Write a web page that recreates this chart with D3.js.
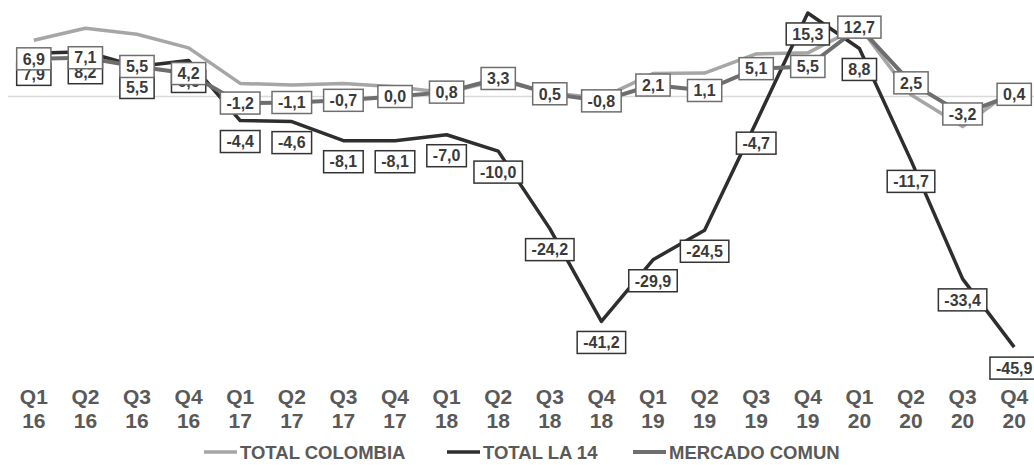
<!DOCTYPE html>
<html>
<head>
<meta charset="utf-8">
<script src="https://cdnjs.cloudflare.com/ajax/libs/d3/7.8.5/d3.min.js"></script>
<style>
  body { margin: 0; background: #fff; }
  svg { display: block; font-family: "Liberation Sans", Arial, sans-serif; }
</style>
</head>
<body>
<div id="chart"></div>
<script>
// categories (quarter / year)
var quarters = ["Q1","Q2","Q3","Q4","Q1","Q2","Q3","Q4","Q1","Q2",
                "Q3","Q4","Q1","Q2","Q3","Q4","Q1","Q2","Q3","Q4"];
var years = ["16","16","16","16","17","17","17","17","18","18",
             "18","18","19","19","19","19","20","20","20","20"];

// series values (% variation)
var totalColombia = [10.3, 12.5, 11.4, 8.9, 2.4, 2.1, 2.4, 1.8, 0.7, 3.0,
                     0.7, -0.3, 4.2, 4.3, 7.8, 8.0, 12.8, 0.3, -5.5, 1.5];
var totalLa14 = [7.9, 8.2, 5.5, 6.6, -4.4, -4.6, -8.1, -8.1, -7.0, -10.0,
                 -24.2, -41.2, -29.9, -24.5, -4.7, 15.3, 8.8, -11.7, -33.4, -45.9];
var mercadoComun = [6.9, 7.1, 5.5, 4.2, -1.2, -1.1, -0.7, 0.0, 0.8, 3.3,
                    0.5, -0.8, 2.1, 1.1, 5.1, 5.5, 12.7, 2.5, -3.2, 0.4];

var seriesNames = ["TOTAL COLOMBIA", "TOTAL LA 14", "MERCADO COMUN"];

var W = 1034, H = 465;
var cats = quarters.map(function(q, i) { return q + " " + years[i]; });

var svg = d3.select("#chart").append("svg")
    .attr("width", W)
    .attr("height", H);

var x = d3.scaleBand()
    .domain(cats)
    .range([8, 1040]);

var y = d3.scaleLinear()
    .domain([-50, 20])
    .range([369.5, -12.7]);

var cx = function(d, i) { return x(cats[i]) + x.bandwidth() / 2; };

// zero line
svg.append("line")
   .attr("x1", 8).attr("x2", 1040)
   .attr("y1", y(0)).attr("y2", y(0))
   .attr("stroke", "#d9d9d9")
   .attr("stroke-width", 1.5);

var styles = {
  "TOTAL COLOMBIA": {color: "#a6a6a6", width: 3.5},
  "TOTAL LA 14":    {color: "#2e2e2e", width: 3.5},
  "MERCADO COMUN":  {color: "#6e6e6e", width: 4}
};

var line = d3.line()
    .x(cx)
    .y(function(d) { return y(d); });

var data = {
  "TOTAL COLOMBIA": totalColombia,
  "TOTAL LA 14": totalLa14,
  "MERCADO COMUN": mercadoComun
};

seriesNames.forEach(function(name) {
  svg.append("path")
     .datum(data[name])
     .attr("fill", "none")
     .attr("stroke", styles[name].color)
     .attr("stroke-width", styles[name].width)
     .attr("stroke-linejoin", "round")
     .attr("d", line);
});

// data labels: boxes with white fill, comma decimals, plain hyphen
function fmt(v) {
  return d3.format(".1f")(v).replace(".", ",").replace("\u2212", "-");
}

function addLabels(values, color, offset) {
  var g = svg.append("g");
  var lab = g.selectAll("g.lab")
     .data(values).enter()
     .append("g")
     .attr("class", "lab")
     .attr("transform", function(d, i) {
       return "translate(" + cx(d, i) + "," + (y(d) + offset) + ")";
     });
  lab.append("rect")
     .attr("fill", "#fff")
     .attr("stroke", color)
     .attr("stroke-width", 1.5);
  var texts = lab.append("text")
     .attr("text-anchor", "middle")
     .attr("dy", "0.36em")
     .attr("font-size", 16)
     .attr("font-weight", "bold")
     .attr("fill", "#3a3a3a")
     .text(fmt);
  texts.each(function(d, i) {
    var w = this.getComputedTextLength() + 12;
    d3.select(this.parentNode).select("rect")
      .attr("x", -w / 2).attr("y", -11)
      .attr("width", w).attr("height", 22);
  });
}

addLabels(totalLa14, "#333333", 21);
addLabels(mercadoComun, "#6e6e6e", 0);

// category axis at the bottom
var axis = svg.append("g")
   .attr("transform", "translate(0,384)")
   .call(d3.axisBottom(x).tickSize(0));
axis.select(".domain").remove();
axis.selectAll("text")
   .attr("y", 20)
   .attr("dy", null)
   .attr("font-size", 21)
   .attr("font-weight", "bold")
   .attr("font-family", "Liberation Sans, Arial, sans-serif")
   .attr("fill", "#595959")
   .text(null)
   .each(function(d, i) {
     var t = d3.select(this);
     t.append("tspan").attr("x", 0).text(quarters[i]);
     t.append("tspan").attr("x", 0).attr("dy", 23.5).text(years[i]);
   });

// legend
var legendX = [204, 447, 633];
var leg = svg.append("g")
   .selectAll("g")
   .data(seriesNames).enter()
   .append("g")
   .attr("transform", function(d, i) { return "translate(" + legendX[i] + ",452)"; });
leg.append("line")
   .attr("x1", 0).attr("x2", 33)
   .attr("stroke", function(d) { return styles[d].color; })
   .attr("stroke-width", function(d) { return styles[d].width; });
leg.append("text")
   .attr("x", 36)
   .attr("dy", "0.36em")
   .attr("font-size", 18.5)
   .attr("font-weight", "bold")
   .attr("fill", "#595959")
   .text(function(d) { return d; });
</script>
</body>
</html>
